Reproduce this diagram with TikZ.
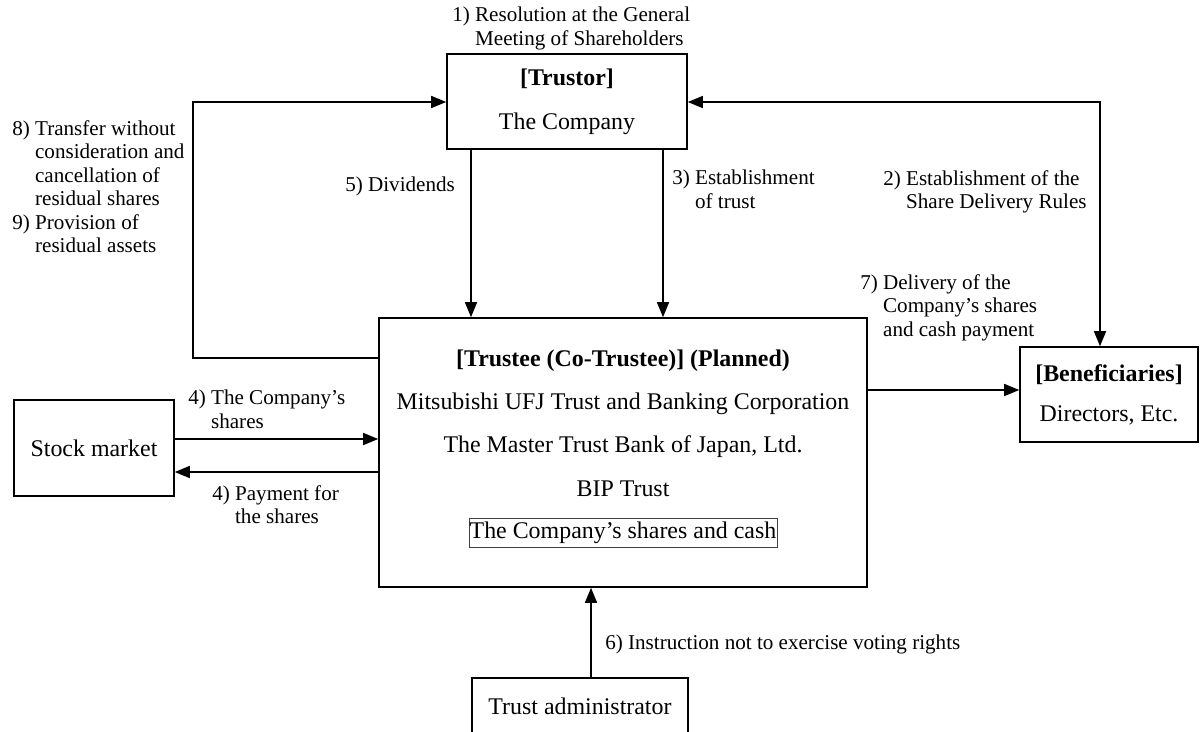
\documentclass[tikz,border=0pt]{standalone}
\usepackage{fontspec}
\setmainfont{Liberation Serif}
\usepackage{tikz}
\usetikzlibrary{arrows.meta, positioning}
\newcommand{\boxfont}{\fontsize{17}{20}\selectfont}
\newcommand{\lblfont}{\fontsize{15}{16.7}\selectfont}
\newcommand{\hng}{\phantom{0)~}}
\tikzset{
  box/.style={rectangle, draw, line width=1.1pt, align=center,
    inner sep=0pt, font=\boxfont},
  innerbox/.style={rectangle, draw=black!75, line width=0.6pt,
    inner xsep=0.5pt, inner ysep=2.5pt, font=\boxfont},
  lbl/.style={anchor=north west, align=left, inner sep=0pt, font=\lblfont},
  arrow/.style={-{Triangle[length=0.375cm, width=0.3cm]}, line width=1.1pt},
  dblarrow/.style={{Triangle[length=0.375cm, width=0.3cm]}-{Triangle[length=0.375cm, width=0.3cm]},
    line width=1.1pt}
}

\begin{document}
\begin{tikzpicture}[x=0.025cm, y=-0.025cm]
  \useasboundingbox (0,0) rectangle (1200,731);

  % Parties
  \node (trustor) at (567,101.5) [box, minimum width=6cm, minimum height=2.375cm,
    font=\fontsize{17}{31.3}\selectfont] {\textbf{[Trustor]}\\The Company};
  \node (trustee) at (623,452.5) [box, minimum width=12.2cm, minimum height=6.725cm] {};
  \node (trusteetext) at (623,423) [align=center, inner sep=0pt,
    font=\fontsize{17}{30.8}\selectfont]
    {\textbf{[Trustee (Co-Trustee)] (Planned)}\\
     Mitsubishi UFJ Trust and Banking Corporation\\
     The Master Trust Bank of Japan, Ltd.\\
     BIP Trust};
  \node (sharescash) at (623,533) [innerbox] {The Company's shares and cash};
  \node (benef) at (1109,394.5) [box, minimum width=4.45cm, minimum height=2.375cm,
    font=\fontsize{17}{28.4}\selectfont] {\textbf{[Beneficiaries]}\\Directors, Etc.};
  \node (stock) at (94,448) [box, minimum width=4cm, minimum height=2.4cm] {Stock market};
  \node (admin) at (580,706) [box, minimum width=5.4cm, minimum height=1.4cm] {Trust administrator};

  % Bends and columns
  \coordinate (looptop) at (193,102);
  \coordinate (loopbot) at (193,358);
  \coordinate (rtop) at (1100,102);
  \coordinate (divx) at (471,0);
  \coordinate (estx) at (663,0);
  \coordinate (buyy) at (0,439);
  \coordinate (payy) at (0,472);
  \coordinate (delivy) at (0,390);
  \coordinate (votex) at (591,0);

  % Flows
  \draw[arrow] (trustee.west |- loopbot) -- (loopbot) -- (looptop) -- (trustor.west |- looptop);
  \draw[dblarrow] (trustor.east |- rtop) -- (rtop) -- (rtop |- benef.north);
  \draw[arrow] (trustor.south -| divx) -- (trustee.north -| divx);
  \draw[arrow] (trustor.south -| estx) -- (trustee.north -| estx);
  \draw[arrow] (stock.east |- buyy) -- (trustee.west |- buyy);
  \draw[arrow] (trustee.west |- payy) -- (stock.east |- payy);
  \draw[arrow] (trustee.east |- delivy) -- (benef.west |- delivy);
  \draw[arrow] (admin.north -| votex) -- (trustee.south -| votex);

  % Labels
  \node (l1) at (452,7) [lbl] {1)~Resolution at the General\\\hng Meeting of Shareholders};
  \node (l2) at (883,170) [lbl] {2)~Establishment of the\\\hng Share Delivery Rules};
  \node (l3) at (672,170) [lbl] {3)~Establishment\\\hng of trust};
  \node (l4a) at (188,390) [lbl] {4)~The Company's\\\hng shares};
  \node (l4b) at (212,485) [lbl] {4)~Payment for\\\hng the shares};
  \node (l5) at (345,177) [lbl] {5)~Dividends};
  \node (l6) at (605,635) [lbl] {6)~Instruction not to exercise voting rights};
  \node (l7) at (860,274) [lbl] {7)~Delivery of the\\\hng Company's shares\\\hng and cash payment};
  \node (l8) at (12,120) [lbl] {8)~Transfer without\\\hng consideration and\\\hng cancellation of\\\hng residual shares\\9)~Provision of\\\hng residual assets};
\end{tikzpicture}
\end{document}
